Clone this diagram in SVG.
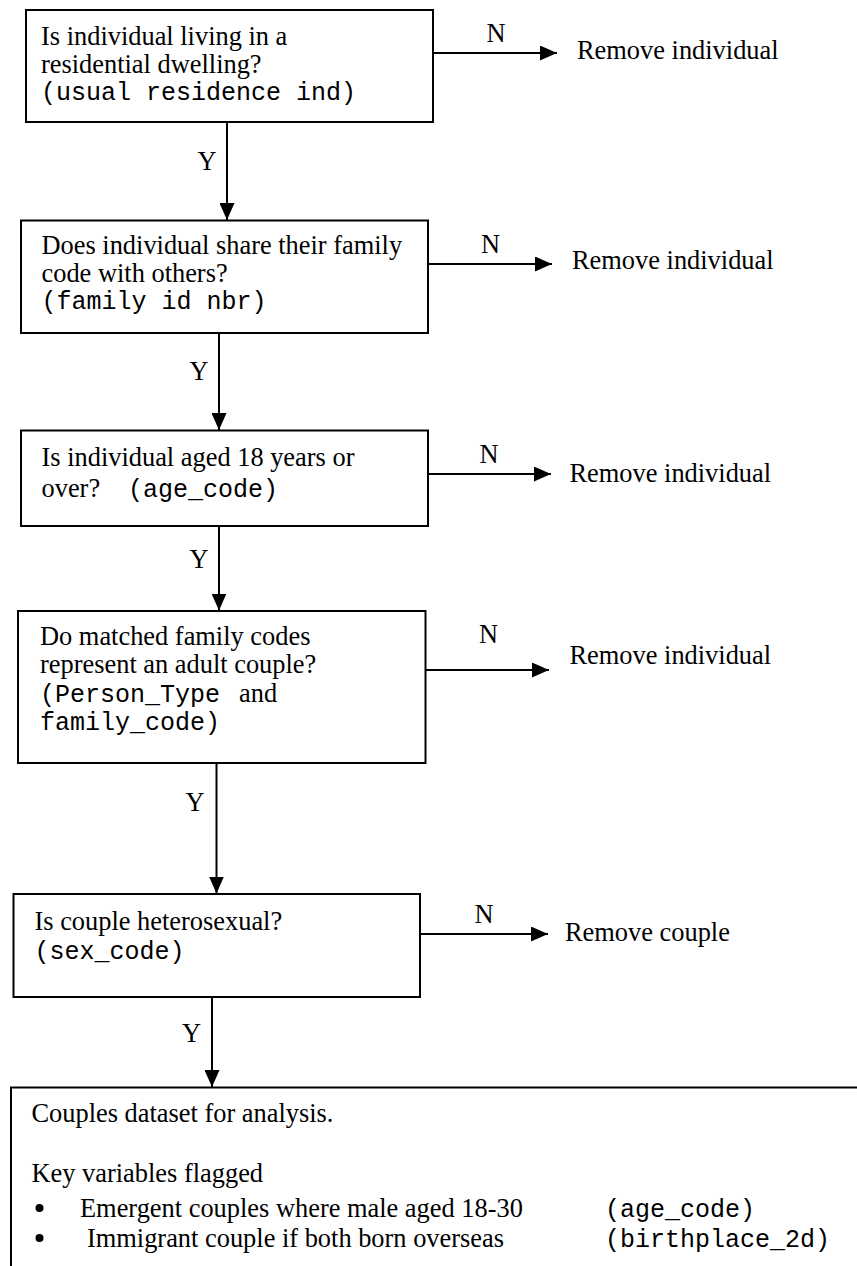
<svg xmlns="http://www.w3.org/2000/svg" width="857" height="1266" viewBox="0 0 857 1266">
<style>
.t{font-family:"Liberation Serif","Times New Roman",serif;font-size:26.4px;fill:#000}
.m{font-family:"Liberation Mono","Courier New",monospace;font-size:25px;fill:#000}
.box{fill:#fff;stroke:#000;stroke-width:2}
.c{stroke:#000;stroke-width:2;fill:none}
</style>
<defs>
<marker id="ah" markerUnits="userSpaceOnUse" markerWidth="17" markerHeight="15" viewBox="0 0 17 15" refX="17" refY="7.5" orient="auto">
<path d="M0,0 L17,7.5 L0,15 Z" fill="#000"/>
</marker>
</defs>
<rect width="857" height="1266" fill="#fff"/>
<g id="connectors">
<line class="c" x1="227" y1="122" x2="227" y2="220" marker-end="url(#ah)"/>
<line class="c" x1="219" y1="333" x2="219" y2="430" marker-end="url(#ah)"/>
<line class="c" x1="219" y1="526" x2="219" y2="610.5" marker-end="url(#ah)"/>
<line class="c" x1="216.5" y1="763" x2="216.5" y2="893.5" marker-end="url(#ah)"/>
<line class="c" x1="212" y1="997" x2="212" y2="1087" marker-end="url(#ah)"/>
<line class="c" x1="433" y1="53" x2="557" y2="53" marker-end="url(#ah)"/>
<line class="c" x1="428" y1="264" x2="552" y2="264" marker-end="url(#ah)"/>
<line class="c" x1="428" y1="474" x2="551" y2="474" marker-end="url(#ah)"/>
<line class="c" x1="425.5" y1="670" x2="549" y2="670" marker-end="url(#ah)"/>
<line class="c" x1="420" y1="934" x2="548" y2="934" marker-end="url(#ah)"/>
<text class="t" x="207" y="170" text-anchor="middle">Y</text>
<text class="t" x="199" y="380" text-anchor="middle">Y</text>
<text class="t" x="199" y="568" text-anchor="middle">Y</text>
<text class="t" x="195" y="811" text-anchor="middle">Y</text>
<text class="t" x="191.5" y="1042" text-anchor="middle">Y</text>
<text class="t" x="496" y="42" text-anchor="middle">N</text>
<text class="t" x="490.5" y="253" text-anchor="middle">N</text>
<text class="t" x="489" y="463" text-anchor="middle">N</text>
<text class="t" x="488.5" y="643" text-anchor="middle">N</text>
<text class="t" x="484" y="923" text-anchor="middle">N</text>
</g>
<g id="q1">
<rect class="box" x="26" y="10" width="407" height="112"/>
<text class="t" x="41" y="45">Is individual living in a</text>
<text class="t" x="41" y="72.5">residential dwelling?</text>
<text class="m" x="41" y="100">(usual residence ind)</text>
</g>
<g id="r1"><text class="t" x="577" y="58.5">Remove individual</text></g>
<g id="q2">
<rect class="box" x="21" y="220.5" width="407" height="112.5"/>
<text class="t" x="41.5" y="254">Does individual share their family</text>
<text class="t" x="41.5" y="281.5">code with others?</text>
<text class="m" x="41.5" y="308.5">(family id nbr)</text>
</g>
<g id="r2"><text class="t" x="572" y="269">Remove individual</text></g>
<g id="q3">
<rect class="box" x="21" y="430.5" width="407" height="95.5"/>
<text class="t" x="41.5" y="465.5">Is individual aged 18 years or</text>
<text class="t" x="41.5" y="496.5">over?</text>
<text class="m" x="128" y="496.5">(age_code)</text>
</g>
<g id="r3"><text class="t" x="569.5" y="482">Remove individual</text></g>
<g id="q4">
<rect class="box" x="18" y="611" width="407.5" height="152"/>
<text class="t" x="40" y="645">Do matched family codes</text>
<text class="t" x="40" y="672.5">represent an adult couple?</text>
<text class="m" x="40" y="701.5">(Person_Type</text>
<text class="t" x="239" y="701.5">and</text>
<text class="m" x="40" y="730">family_code)</text>
</g>
<g id="r4"><text class="t" x="569.5" y="663.5">Remove individual</text></g>
<g id="q5">
<rect class="box" x="13.5" y="894" width="406.5" height="103"/>
<text class="t" x="34.5" y="929.5">Is couple heterosexual?</text>
<text class="m" x="34.5" y="958.5">(sex_code)</text>
</g>
<g id="r5"><text class="t" x="565" y="941">Remove couple</text></g>
<g id="result">
<path class="c" d="M857,1087.5 H11 V1266"/>
<text class="t" x="31.5" y="1121.5">Couples dataset for analysis.</text>
<text class="t" x="31.5" y="1181.5">Key variables flagged</text>
<circle cx="39.5" cy="1208" r="4"/>
<text class="t" x="80" y="1216.5">Emergent couples where male aged 18-30</text>
<text class="m" x="605" y="1216.5">(age_code)</text>
<circle cx="39.5" cy="1238" r="4"/>
<text class="t" x="87" y="1246.5">Immigrant couple if both born overseas</text>
<text class="m" x="605" y="1246.5">(birthplace_2d)</text>
</g>
</svg>
